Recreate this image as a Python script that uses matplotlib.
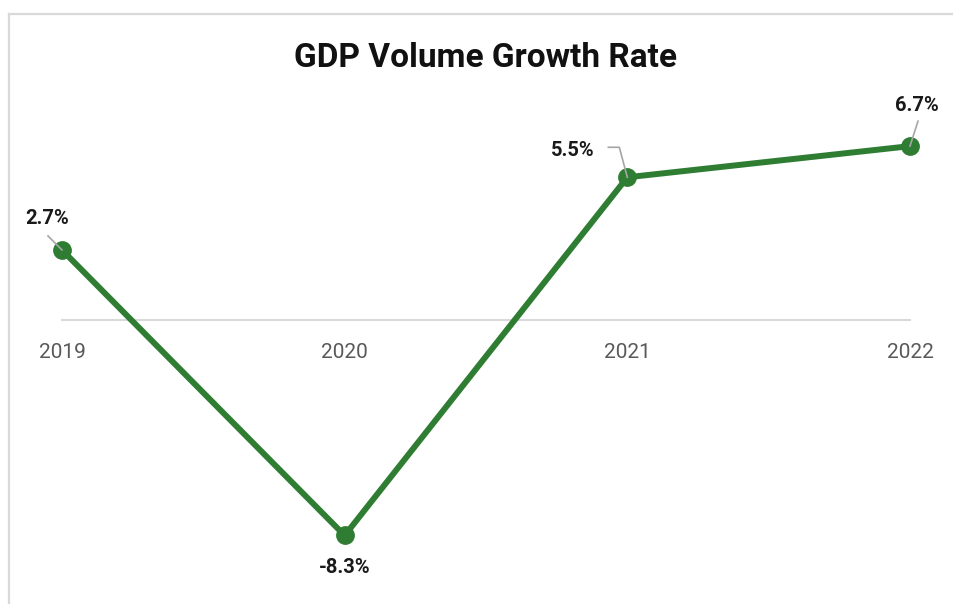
import matplotlib.pyplot as plt
from matplotlib.lines import Line2D

years = ["2019", "2020", "2021", "2022"]
growth = [2.7, -8.3, 5.5, 6.7]
labels = ["2.7%", "-8.3%", "5.5%", "6.7%"]

# label offsets (pixels from the point) and leader line vertices (pixels from the point)
label_offsets = [(-15, 31), (0, -32), (-55, 27), (7, 41)]
leaders = [
    [(-14, 14), (0, 0)],
    None,
    [(-19, 30), (-8, 30), (0, 0)],
    [(8, 25), (0, 0)],
]

green = "#2e7d32"
plt.rcParams["font.family"] = ["Roboto", "DejaVu Sans"]

fig = plt.figure(figsize=(9.54, 6.04), dpi=100)
ax = fig.add_axes([0, 0, 1, 1])
ax.set_xlim(-0.2193, 3.1557)
ax.set_ylim(-10.94, 12.33)
ax.axis("off")

x = list(range(len(years)))

# zero axis
ax.plot([0, 3], [0, 0], color="#d9d9d9", lw=1.5, zorder=1)
for xi, yr in zip(x, years):
    ax.annotate(yr, (xi, 0), xytext=(0, -32), textcoords="offset pixels",
                ha="center", va="center", fontsize=15, color="#595959")

ax.plot(x, growth, color=green, lw=4.3, marker="o", markersize=12.5,
        solid_capstyle="round", zorder=3)

for xi, yi, lab, off, ld in zip(x, growth, labels, label_offsets, leaders):
    ax.annotate(lab, (xi, yi), xytext=off, textcoords="offset pixels",
                ha="center", va="center", fontsize=14.5, fontweight="bold",
                color="#1a1a1a", zorder=5)
    if ld:
        px, py = ax.transData.transform((xi, yi))
        pts = [ax.transData.inverted().transform((px + dx, py + dy)) for dx, dy in ld]
        ax.plot([p[0] for p in pts], [p[1] for p in pts], color="#a6a6a6",
                lw=1.2, zorder=4)

fig.text(486 / 954, 1 - 58 / 604, "GDP Volume Growth Rate", ha="center",
         va="center", fontsize=24, fontweight="bold", color="#111111")

# outer border (top and left visible)
fig.add_artist(Line2D([9 / 954, 1], [1 - 13.5 / 604] * 2, color="#d9d9d9", lw=1.6))
fig.add_artist(Line2D([9 / 954] * 2, [0, 1 - 13.5 / 604], color="#d9d9d9", lw=1.6))

fig.savefig("out.png", dpi=100)
